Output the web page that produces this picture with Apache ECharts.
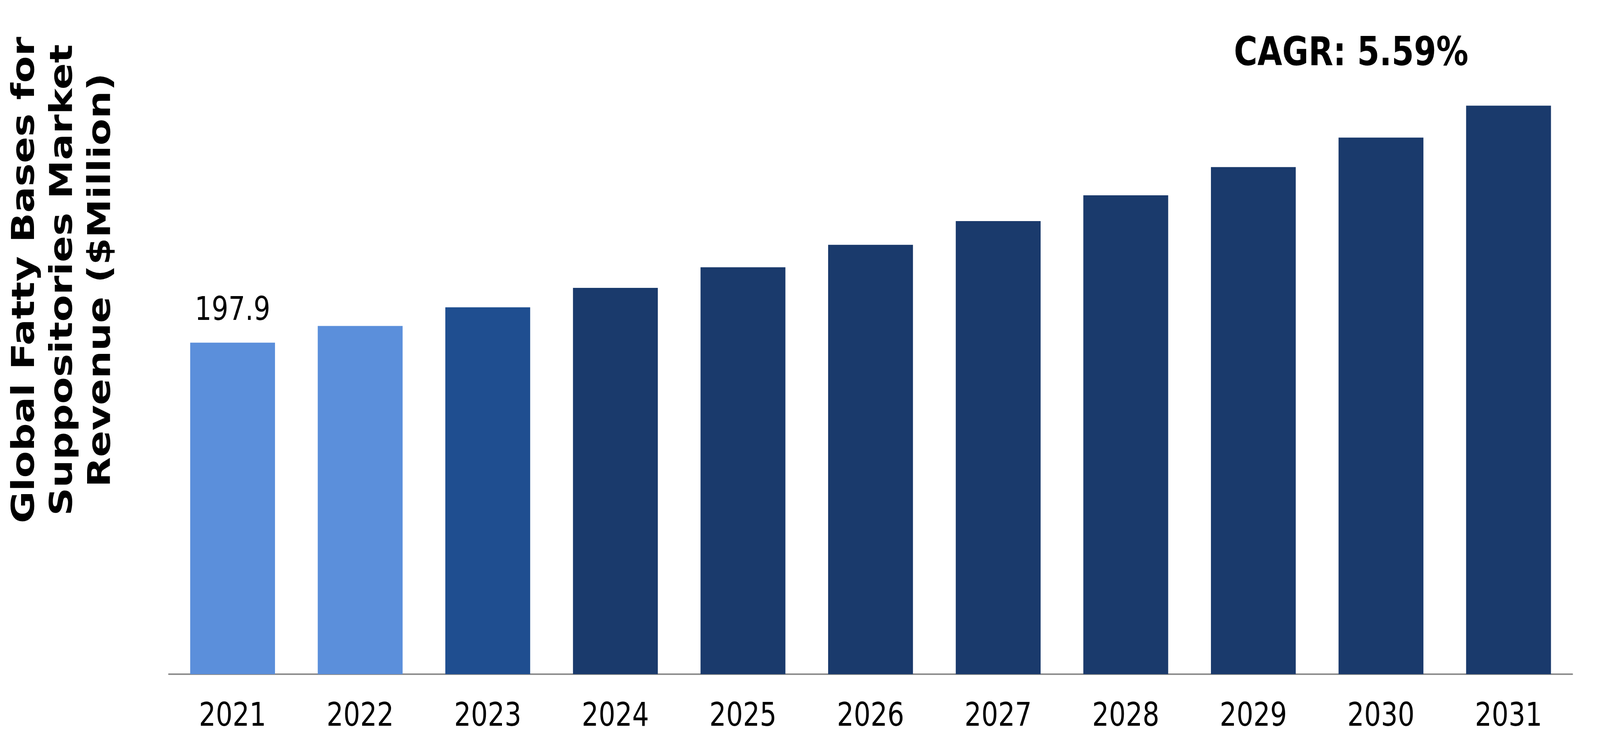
<!DOCTYPE html>
<html>
<head>
<meta charset="utf-8">
<script src="https://cdn.jsdelivr.net/npm/echarts@6/dist/echarts.min.js"></script>
<style>
  html, body { margin: 0; padding: 0; background: #ffffff; overflow: hidden; width: 100%; height: 100%; }
  #chart { width: 5091px; height: 1915px; transform-origin: 0 0; position: absolute; left: 0; top: 0; }
</style>
</head>
<body>
<div id="chart"></div>
<script>
// ---- data ----
const years = ['2021', '2022', '2023', '2024', '2025', '2026', '2027', '2028', '2029', '2030', '2031'];
const revenue = [197.9, 207.9, 219.0, 230.6, 242.9, 256.3, 270.5, 285.9, 302.7, 320.3, 339.4];
const labeledYears = ['2021'];
const yTitle = 'Global Fatty Bases for\nSuppositories Market\nRevenue ($Million)';
const cagrText = 'CAGR: 5.59%';

// ---- styles ----
const historicColor = '#5B8FDB';
const baseColor = '#1F4E90';
const forecastColor = '#1A3A6C';
function barColor(year) {
  const y = parseInt(year, 10);
  if (y <= 2022) return historicColor;
  if (y === 2023) return baseColor;
  return forecastColor;
}

const el = document.getElementById('chart');
// fit the 5091x1915 drawing into whatever viewport the browser actually has
function fitToViewport() {
  const vw = window.innerWidth || document.documentElement.clientWidth || 5091;
  const vh = window.innerHeight || document.documentElement.clientHeight || 1915;
  el.style.transform = 'scale(' + (vw / 5091) + ',' + (vh / 1915) + ')';
}
fitToViewport();
window.addEventListener('resize', fitToViewport);

const chart = echarts.init(el, null, { renderer: 'canvas', width: 5091, height: 1915 });
const FONT = '"DejaVu Sans", Verdana, sans-serif';

const option = {
  backgroundColor: '#ffffff',
  animation: false,
  grid: { left: 537, right: 88, top: 225, bottom: 189, containLabel: false },
  xAxis: {
    type: 'category',
    data: years,
    axisTick: { show: false },
    axisLine: { show: true, lineStyle: { color: '#8c8c8c', width: 4 } },
    axisLabel: {
      color: '#000000',
      fontSize: 84,
      fontFamily: FONT,
      margin: 68
    },
    splitLine: { show: false }
  },
  yAxis: {
    type: 'value',
    min: 0,
    max: 350,
    show: false,
    splitLine: { show: false }
  },
  series: [{
    type: 'bar',
    barWidth: '66.5%',
    data: years.map((yr, i) => ({
      value: revenue[i],
      itemStyle: { color: barColor(yr) },
      label: {
        show: labeledYears.includes(yr),
        position: 'top',
        distance: 38,
        color: '#000000',
        fontSize: 84,
        fontFamily: FONT,
        formatter: (p) => Number(p.value).toFixed(1)
      }
    }))
  }],
  graphic: [
    {
      type: 'text',
      x: 4299,
      y: 140,
      style: {
        text: cagrText,
        font: 'bold 102px ' + FONT,
        fill: '#000000',
        textAlign: 'center',
        textVerticalAlign: 'middle'
      }
    },
    {
      type: 'text',
      x: 203,
      y: 717,
      rotation: Math.PI / 2,
      style: {
        text: yTitle,
        font: 'bold 100px ' + FONT,
        fill: '#000000',
        textAlign: 'center',
        textVerticalAlign: 'middle',
        lineHeight: 121
      }
    }
  ]
};

chart.setOption(option);
</script>
</body>
</html>
